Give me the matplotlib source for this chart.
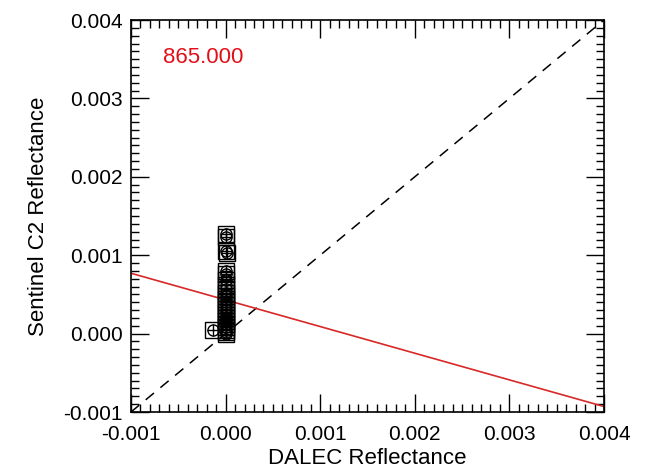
import matplotlib
matplotlib.use("Agg")
import matplotlib.pyplot as plt
from matplotlib.ticker import MultipleLocator, FormatStrFormatter
import numpy as np

plt.rcParams['font.family'] = ['Liberation Sans', 'DejaVu Sans']

# data
dalec_x = [0.0, 0.0, 0.0, 0.00001, 0.0, 0.0, 0.0, 0.0, 0.0, 0.0, 0.0, 0.0,
           0.0, 0.0, 0.0, 0.0, 0.0, 0.0, 0.0, 0.0, 0.0, 0.0, 0.0, 0.0, -0.00013]
s2_y = [0.00127, 0.00123, 0.00106, 0.00103, 0.00080, 0.00076, 0.00068,
        0.00062, 0.00057, 0.00052, 0.00048, 0.00044, 0.00040, 0.00036,
        0.00031, 0.00027, 0.00024, 0.00020, 0.00016, 0.00012, 0.00008,
        0.00004, 0.00002, 0.0, 0.00005]
fit_slope = -0.34
fit_intercept = 0.00043
band_label = "865.000"

fig = plt.figure(figsize=(6.54, 4.72), dpi=100)
ax = fig.add_axes([0.2003, 0.1271, 0.7232, 0.8305])

xl = np.array([-0.001, 0.004])
ax.plot(xl, xl, color='black', linestyle=(0, (7, 5.5)), linewidth=1.1)
ax.plot(xl, fit_slope * xl + fit_intercept, color='#d82828', linewidth=1.2)

ax.plot(dalec_x, s2_y, linestyle='none', marker='s', markersize=11,
        markerfacecolor='none', markeredgecolor='black', markeredgewidth=1.0)
ax.plot(dalec_x, s2_y, linestyle='none', marker='o', markersize=8,
        markerfacecolor='none', markeredgecolor='black', markeredgewidth=1.0)
ax.plot(dalec_x, s2_y, linestyle='none', marker='+', markersize=8,
        markeredgecolor='black', markeredgewidth=1.0)

ax.text(-0.00066, 0.00352, band_label, color='#e0101a', fontsize=16,
        ha='left', va='center')

ax.set_xlim(-0.001, 0.004)
ax.set_ylim(-0.001, 0.004)
ax.xaxis.set_major_locator(MultipleLocator(0.001))
ax.yaxis.set_major_locator(MultipleLocator(0.001))
ax.xaxis.set_minor_locator(MultipleLocator(0.0001))
ax.yaxis.set_minor_locator(MultipleLocator(0.0001))
ax.xaxis.set_major_formatter(FormatStrFormatter('%.3f'))
ax.yaxis.set_major_formatter(FormatStrFormatter('%.3f'))
ax.tick_params(which='both', direction='in', top=True, right=True,
               width=1.0, labelsize=15)
ax.tick_params(which='major', length=13)
ax.tick_params(axis='x', which='major', pad=9)
ax.tick_params(axis='y', which='major', pad=6)
ax.tick_params(which='minor', length=6)
for s in ax.spines.values():
    s.set_linewidth(1.2)

ax.set_xlabel('DALEC Reflectance', fontsize=16, labelpad=3)
ax.set_ylabel('Sentinel C2 Reflectance', fontsize=16, labelpad=10)

fig.savefig('out.png', dpi=100)
